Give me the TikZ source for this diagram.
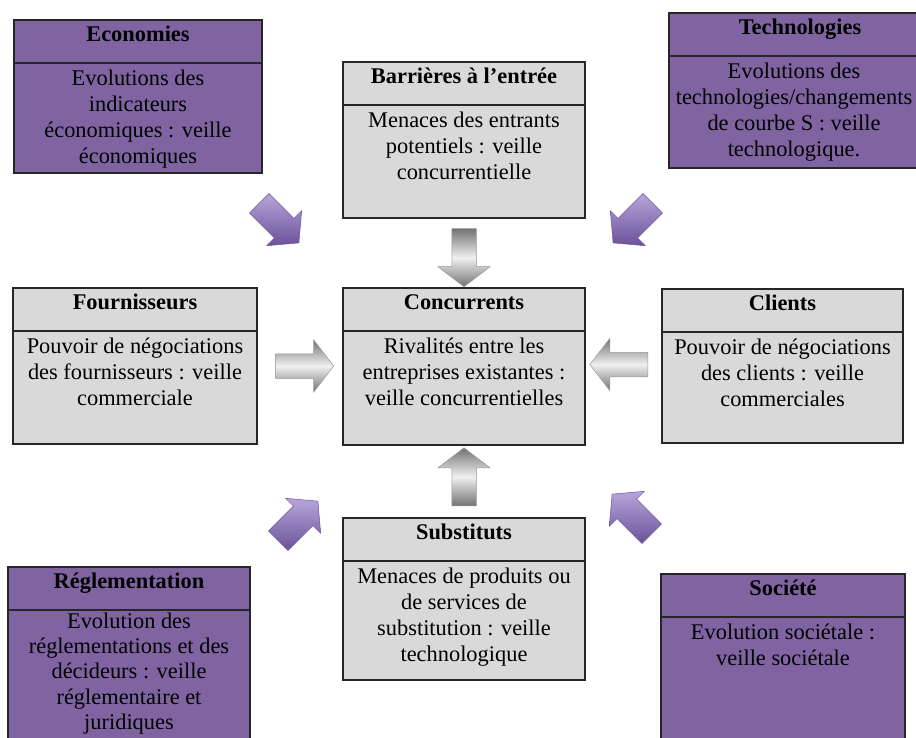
\documentclass[tikz,border=0pt]{standalone}
\usepackage{fontspec}
\setmainfont{Liberation Serif}
\usetikzlibrary{positioning, calc, shapes.arrows}
\definecolor{violetbox}{HTML}{8064A2}
\definecolor{greybox}{HTML}{D9D9D9}
\definecolor{violetlight}{HTML}{B7A6DA}
\definecolor{violetdark}{HTML}{6B519A}
\tikzset{
head/.style={draw=black!85, line width=1.2pt, outer sep=0pt, inner ysep=0pt,
  minimum height=43pt, text height=1.4ex, text depth=1.4ex,
  font=\fontsize{22.4}{25.8}\selectfont\bfseries},
panel/.style={draw=black!85, line width=1.2pt, outer sep=0pt},
txt/.style={align=center, inner sep=0pt, font=\fontsize{22.4}{25.8}\selectfont},
gfill/.style={fill=greybox},
pfill/.style={fill=violetbox},
garrow/.style={single arrow, draw=black!40, line width=0.5pt,
  minimum height=58pt, minimum width=52pt, inner xsep=0pt, inner ysep=12pt,
  single arrow head extend=14pt, single arrow tip angle=105,
  top color=black!55, bottom color=black!55, middle color=black!6},
parrow/.style={single arrow, draw=violetdark, line width=0.5pt,
  minimum height=56pt, minimum width=49pt, inner xsep=0pt, inner ysep=13.5pt,
  single arrow head extend=11pt, single arrow tip angle=100,
  top color=violetlight, bottom color=violetdark},
}

\begin{document}
\begin{tikzpicture}[x=1pt, y=-1pt]
\useasboundingbox (0,0) rectangle (916,737);
\clip (0,0) rectangle (916,737);

% forces de Porter (gris)
\node[head, gfill, minimum width=242pt, anchor=north west] (barr) at (343,62) {Barrières à l’entrée};
\node[panel, gfill, minimum width=242pt, minimum height=113pt, below=0pt of barr] (barrB) {};
\node[txt, below=7pt of barrB.north] (barrT) {Menaces des entrants\\potentiels : veille\\concurrentielle};

\node[head, gfill, minimum width=242pt, anchor=north west] (conc) at (343,288) {Concurrents};
\node[panel, gfill, minimum width=242pt, minimum height=114pt, below=0pt of conc] (concB) {};
\node[txt, below=7pt of concB.north] (concT) {Rivalités entre les\\entreprises existantes :\\veille concurrentielles};

\node[head, gfill, minimum width=244pt, anchor=north west] (four) at (13,288) {Fournisseurs};
\node[panel, gfill, minimum width=244pt, minimum height=113pt, below=0pt of four] (fourB) {};
\node[txt, below=7pt of fourB.north] (fourT) {Pouvoir de négociations\\des fournisseurs : veille\\commerciale};

\node[head, gfill, minimum width=241pt, anchor=north west] (cli) at (662,289) {Clients};
\node[panel, gfill, minimum width=241pt, minimum height=111pt, below=0pt of cli] (cliB) {};
\node[txt, below=7pt of cliB.north] (cliT) {Pouvoir de négociations\\des clients : veille\\commerciales};

\node[head, gfill, minimum width=242pt, anchor=north west] (subs) at (343,518) {Substituts};
\node[panel, gfill, minimum width=242pt, minimum height=119pt, below=0pt of subs] (subsB) {};
\node[txt, below=7pt of subsB.north] (subsT) {Menaces de produits ou\\de services de\\substitution : veille\\technologique};

% environnement (violet)
\node[head, pfill, minimum width=248pt, anchor=north west] (eco) at (14,20) {Economies};
\node[panel, pfill, minimum width=248pt, minimum height=110pt, below=0pt of eco] (ecoB) {};
\node[txt, below=7pt of ecoB.north] (ecoT) {Evolutions des\\indicateurs\\économiques : veille\\économiques};

\node[head, pfill, minimum width=262pt, anchor=north west] (tech) at (669,13) {Technologies};
\node[panel, pfill, minimum width=262pt, minimum height=112pt, below=0pt of tech] (techB) {};
\node[txt, below=7pt of techB.north, xshift=-6pt] (techT) {Evolutions des\\technologies/changements\\de courbe S : veille\\technologique.};

\node[head, pfill, minimum width=242pt, anchor=north west] (regl) at (8,567) {Réglementation};
\node[panel, pfill, minimum width=242pt, minimum height=150pt, below=0pt of regl] (reglB) {};
\node[txt, below=3pt of reglB.north, font=\fontsize{22.4}{25.1}\selectfont] (reglT) {Evolution des\\réglementations et des\\décideurs : veille\\réglementaire et\\juridiques};

\node[head, pfill, minimum width=244pt, anchor=north west] (soc) at (661,574) {Société};
\node[panel, pfill, minimum width=244pt, minimum height=150pt, below=0pt of soc] (socB) {};
\node[txt, below=7pt of socB.north] (socT) {Evolution sociétale :\\veille sociétale};

% fleches grises
\node[garrow, rotate=-90] (a1) at ($(barrB.south)!.5!(conc.north)$) {};
\node[garrow, rotate=90] (a2) at ($(subs.north)!.5!(concB.south)$) {};
\node[garrow] (a3) at ($(fourB.north east)!.5!(concB.north west) + (0,35)$) {};
\node[garrow, rotate=180] (a4) at ($(concB.north east)!.5!(cliB.north west) + (0,33)$) {};

% fleches violettes
\node[parrow, rotate=-45] (p1) at (275,219) {};
\node[parrow, rotate=-135] (p2) at (637,219) {};
\node[parrow, rotate=45] (p3) at (294,525) {};
\node[parrow, rotate=135] (p4) at (636,518) {};
\end{tikzpicture}
\end{document}
